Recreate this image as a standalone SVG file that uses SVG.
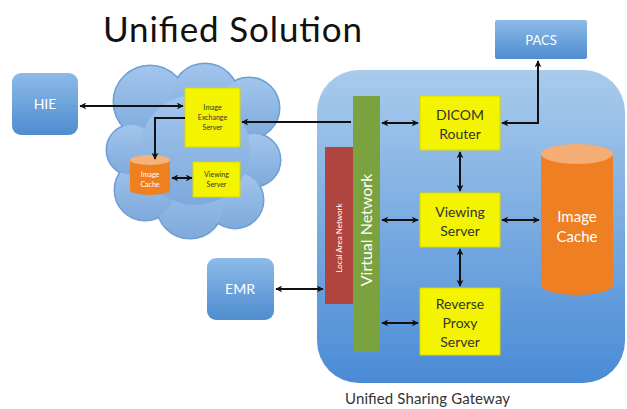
<svg xmlns="http://www.w3.org/2000/svg" width="627" height="409" viewBox="0 0 627 409">
<defs>
<linearGradient id="gBlue" x1="0" y1="0" x2="0" y2="1"><stop offset="0" stop-color="#8dbbe8"/><stop offset="1" stop-color="#4f8ccf"/></linearGradient>
<linearGradient id="gGate" x1="0" y1="0" x2="0" y2="1"><stop offset="0" stop-color="#a9cbec"/><stop offset="1" stop-color="#4a8bd6"/></linearGradient>
<linearGradient id="gCloud" x1="0" y1="0" x2="0" y2="1"><stop offset="0" stop-color="#a2c5ec"/><stop offset="1" stop-color="#7eaadc"/></linearGradient>
<marker id="ah" viewBox="0 0 10 10" refX="9" refY="5" markerWidth="7" markerHeight="7" markerUnits="userSpaceOnUse" orient="auto-start-reverse"><path d="M0,0 L10,5 L0,10 L3,5 z" fill="#111"/></marker>
<style>
.blue{fill:url(#gBlue);}
.yel{fill:#f4f400;stroke:#d8d800;stroke-width:1;}
.lbl{font-family:Lato,"Open Sans",sans-serif;fill:#333;text-anchor:middle;}
.wl{font-family:Lato,"Open Sans",sans-serif;fill:#fff;text-anchor:middle;}
.con{fill:none;stroke:#111;stroke-width:2;marker-start:url(#ah);marker-end:url(#ah);}
.con1{fill:none;stroke:#111;stroke-width:2;marker-end:url(#ah);}
.cs{fill:#6f9fd6;}
.cf{fill:url(#gCloud);}
</style>
</defs>
<rect width="627" height="409" fill="#fff"/>
<text x="103" y="42" font-family="Lato,'Open Sans',sans-serif" font-size="35" fill="#111" textLength="259">Unified Solution</text>

<g id="gateway">
<rect x="317" y="70" width="308" height="313" rx="42" fill="url(#gGate)"/>
<text x="345" y="404" font-family="Lato,'Open Sans',sans-serif" font-size="15" fill="#333" textLength="165">Unified Sharing Gateway</text>
</g>

<g id="cloud">
<g class="cs" stroke="#6f9fd6" stroke-width="3">
<circle cx="150" cy="102" r="36"/><circle cx="205" cy="97" r="33"/><circle cx="249" cy="108" r="30"/><circle cx="254" cy="160" r="26"/><circle cx="235" cy="200" r="28"/><circle cx="190" cy="205" r="33"/><circle cx="145" cy="190" r="30"/><circle cx="132" cy="150" r="25"/><circle cx="195" cy="150" r="55"/>
</g>
<g class="cf">
<circle cx="150" cy="102" r="36"/><circle cx="205" cy="97" r="33"/><circle cx="249" cy="108" r="30"/><circle cx="254" cy="160" r="26"/><circle cx="235" cy="200" r="28"/><circle cx="190" cy="205" r="33"/><circle cx="145" cy="190" r="30"/><circle cx="132" cy="150" r="25"/><circle cx="195" cy="150" r="55"/>
</g>
</g>

<g id="hie"><rect x="12" y="73" width="66" height="62" rx="9" class="blue"/><text x="45" y="109" class="wl" font-size="14">HIE</text></g>
<g id="emr"><rect x="207" y="258" width="67" height="62" rx="9" class="blue"/><text x="240" y="294" class="wl" font-size="14">EMR</text></g>
<g id="pacs"><rect x="495" y="20" width="92" height="39" rx="2" class="blue"/><text x="541" y="45" class="wl" font-size="13">PACS</text></g>

<g id="ies"><rect x="185" y="88" width="55" height="59" class="yel"/>
<text class="lbl" font-size="7"><tspan x="212.5" y="110">Image</tspan><tspan x="212.5" y="120">Exchange</tspan><tspan x="212.5" y="130">Server</tspan></text></g>
<g id="smallcache"><path d="M130,160 v30 a20,5 0 0 0 40,0 v-30 z" fill="#ef8020"/><ellipse cx="150" cy="160" rx="20" ry="5" fill="#f5b27a"/>
<text class="wl" font-size="7"><tspan x="150" y="177">Image</tspan><tspan x="150" y="187">Cache</tspan></text></g>
<g id="smallview"><rect x="193" y="162" width="47" height="35" class="yel"/>
<text class="lbl" font-size="7"><tspan x="216.5" y="177">Viewing</tspan><tspan x="216.5" y="187">Server</tspan></text></g>

<g id="lan"><rect x="325" y="147" width="28" height="157" fill="#b0443f"/><text transform="translate(342,238) rotate(-90)" class="wl" font-size="8">Local Area Network</text></g>
<g id="vnet"><rect x="353" y="96" width="27" height="256" fill="#7aa23e"/><text transform="translate(372,230) rotate(-90)" class="wl" font-size="16">Virtual Network</text></g>

<g id="dicom"><rect x="420" y="96" width="80" height="54" class="yel"/>
<text class="lbl" font-size="14"><tspan x="460" y="120">DICOM</tspan><tspan x="460" y="139">Router</tspan></text></g>
<g id="viewing"><rect x="420" y="193" width="80" height="54" class="yel"/>
<text class="lbl" font-size="14"><tspan x="460" y="217">Viewing</tspan><tspan x="460" y="236">Server</tspan></text></g>
<g id="rproxy"><rect x="420" y="288" width="80" height="67" class="yel"/>
<text class="lbl" font-size="14"><tspan x="460" y="309">Reverse</tspan><tspan x="460" y="328">Proxy</tspan><tspan x="460" y="347">Server</tspan></text></g>
<g id="cache"><path d="M541,154 v131 a36,10 0 0 0 72,0 v-131 z" fill="#ee7f22"/><ellipse cx="577" cy="154" rx="36" ry="10" fill="#f4ad74"/>
<text class="wl" font-size="15"><tspan x="577" y="222">Image</tspan><tspan x="577" y="242">Cache</tspan></text></g>

<g id="connectors">
<line x1="80" y1="106" x2="183" y2="106" class="con"/>
<line x1="351" y1="122" x2="242" y2="122" class="con1"/>
<path d="M185,118 H155 V159" class="con1"/>
<line x1="172" y1="178" x2="192" y2="178" class="con"/>
<line x1="382" y1="123" x2="418" y2="123" class="con"/>
<path d="M502,123 H538 V61" class="con"/>
<line x1="460" y1="152" x2="460" y2="191" class="con"/>
<line x1="382" y1="220" x2="418" y2="220" class="con"/>
<line x1="502" y1="220" x2="539" y2="220" class="con"/>
<line x1="460" y1="249" x2="460" y2="286" class="con"/>
<line x1="382" y1="323" x2="418" y2="323" class="con"/>
<line x1="276" y1="289" x2="323" y2="289" class="con"/>
</g>
</svg>
